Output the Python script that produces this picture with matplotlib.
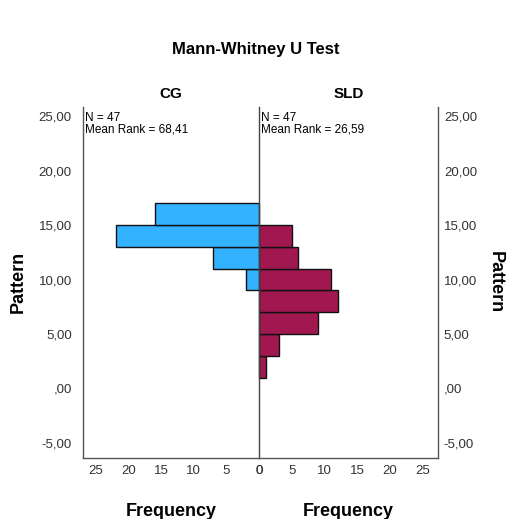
import matplotlib.pyplot as plt
from matplotlib.ticker import FuncFormatter

plt.rcParams['font.family'] = ['Liberation Sans', 'DejaVu Sans']

# Bin lower edges (width 2) and frequencies
bin_starts = [1, 3, 5, 7, 9, 11, 13, 15]
cg_freq = [0, 0, 0, 0, 2, 7, 22, 16]
sld_freq = [1, 3, 9, 12, 11, 6, 5, 0]
groups = ['CG', 'SLD']
n_values = [47, 47]
mean_ranks = ['68,41', '26,59']
y_ticks = [-5, 0, 5, 10, 15, 20, 25]
x_ticks = [0, 5, 10, 15, 20, 25]


def spss_fmt(v, pos):
    s = f"{v:.2f}".replace('.', ',')
    return ',00' if abs(v) < 1e-9 else s


fig = plt.figure(figsize=(5.12, 5.19), dpi=100)
ax_l = fig.add_axes([0.162, 0.1175, 0.344, 0.677])
ax_r = fig.add_axes([0.506, 0.1175, 0.350, 0.677], sharey=ax_l)

ax_l.barh(bin_starts, cg_freq, height=2, align='edge', color='#33b2ff',
          edgecolor='#111111', linewidth=1)
ax_r.barh(bin_starts, sld_freq, height=2, align='edge', color='#a0184f',
          edgecolor='#111111', linewidth=1)

ax_l.set_xlim(27.0, 0)
ax_r.set_xlim(0, 27.4)
ax_l.set_ylim(-6.4, 25.9)

for ax in (ax_l, ax_r):
    ax.spines['top'].set_visible(False)
    ax.set_xticks(x_ticks)
    ax.tick_params(length=0, labelsize=9.5, colors='#333333', pad=5)
    for sp in ax.spines.values():
        sp.set_color('#555555')
        sp.set_linewidth(1)
    ax.set_xlabel('Frequency', fontsize=13, fontweight='bold', labelpad=19)

ax_l.spines['right'].set_visible(False)
ax_r.spines['left'].set_color('#444444')
ax_l.set_yticks(y_ticks)
ax_l.yaxis.set_major_formatter(FuncFormatter(spss_fmt))
ax_l.tick_params(axis='y', pad=8)
ax_r.yaxis.tick_right()
ax_r.tick_params(axis='y', labelright=True, labelleft=False, pad=4)
fig.text(0.035, 0.456, 'Pattern', fontsize=13, fontweight='bold',
         rotation=90, ha='center', va='center')
fig.text(0.968, 0.456, 'Pattern', fontsize=13, fontweight='bold',
         rotation=-90, ha='center', va='center')

for ax, g, n, mr in zip((ax_l, ax_r), groups, n_values, mean_ranks):
    ax.set_title(g, fontsize=11, fontweight='bold', pad=6)
    ax.text(0.012, 0.985, f"N = {n}\nMean Rank = {mr}", transform=ax.transAxes,
            ha='left', va='top', fontsize=8.5, linespacing=1.0)

fig.text(0.5, 0.905, 'Mann-Whitney U Test', ha='center', va='center',
         fontsize=12, fontweight='bold')

fig.savefig('out.png', dpi=100, facecolor='white')
